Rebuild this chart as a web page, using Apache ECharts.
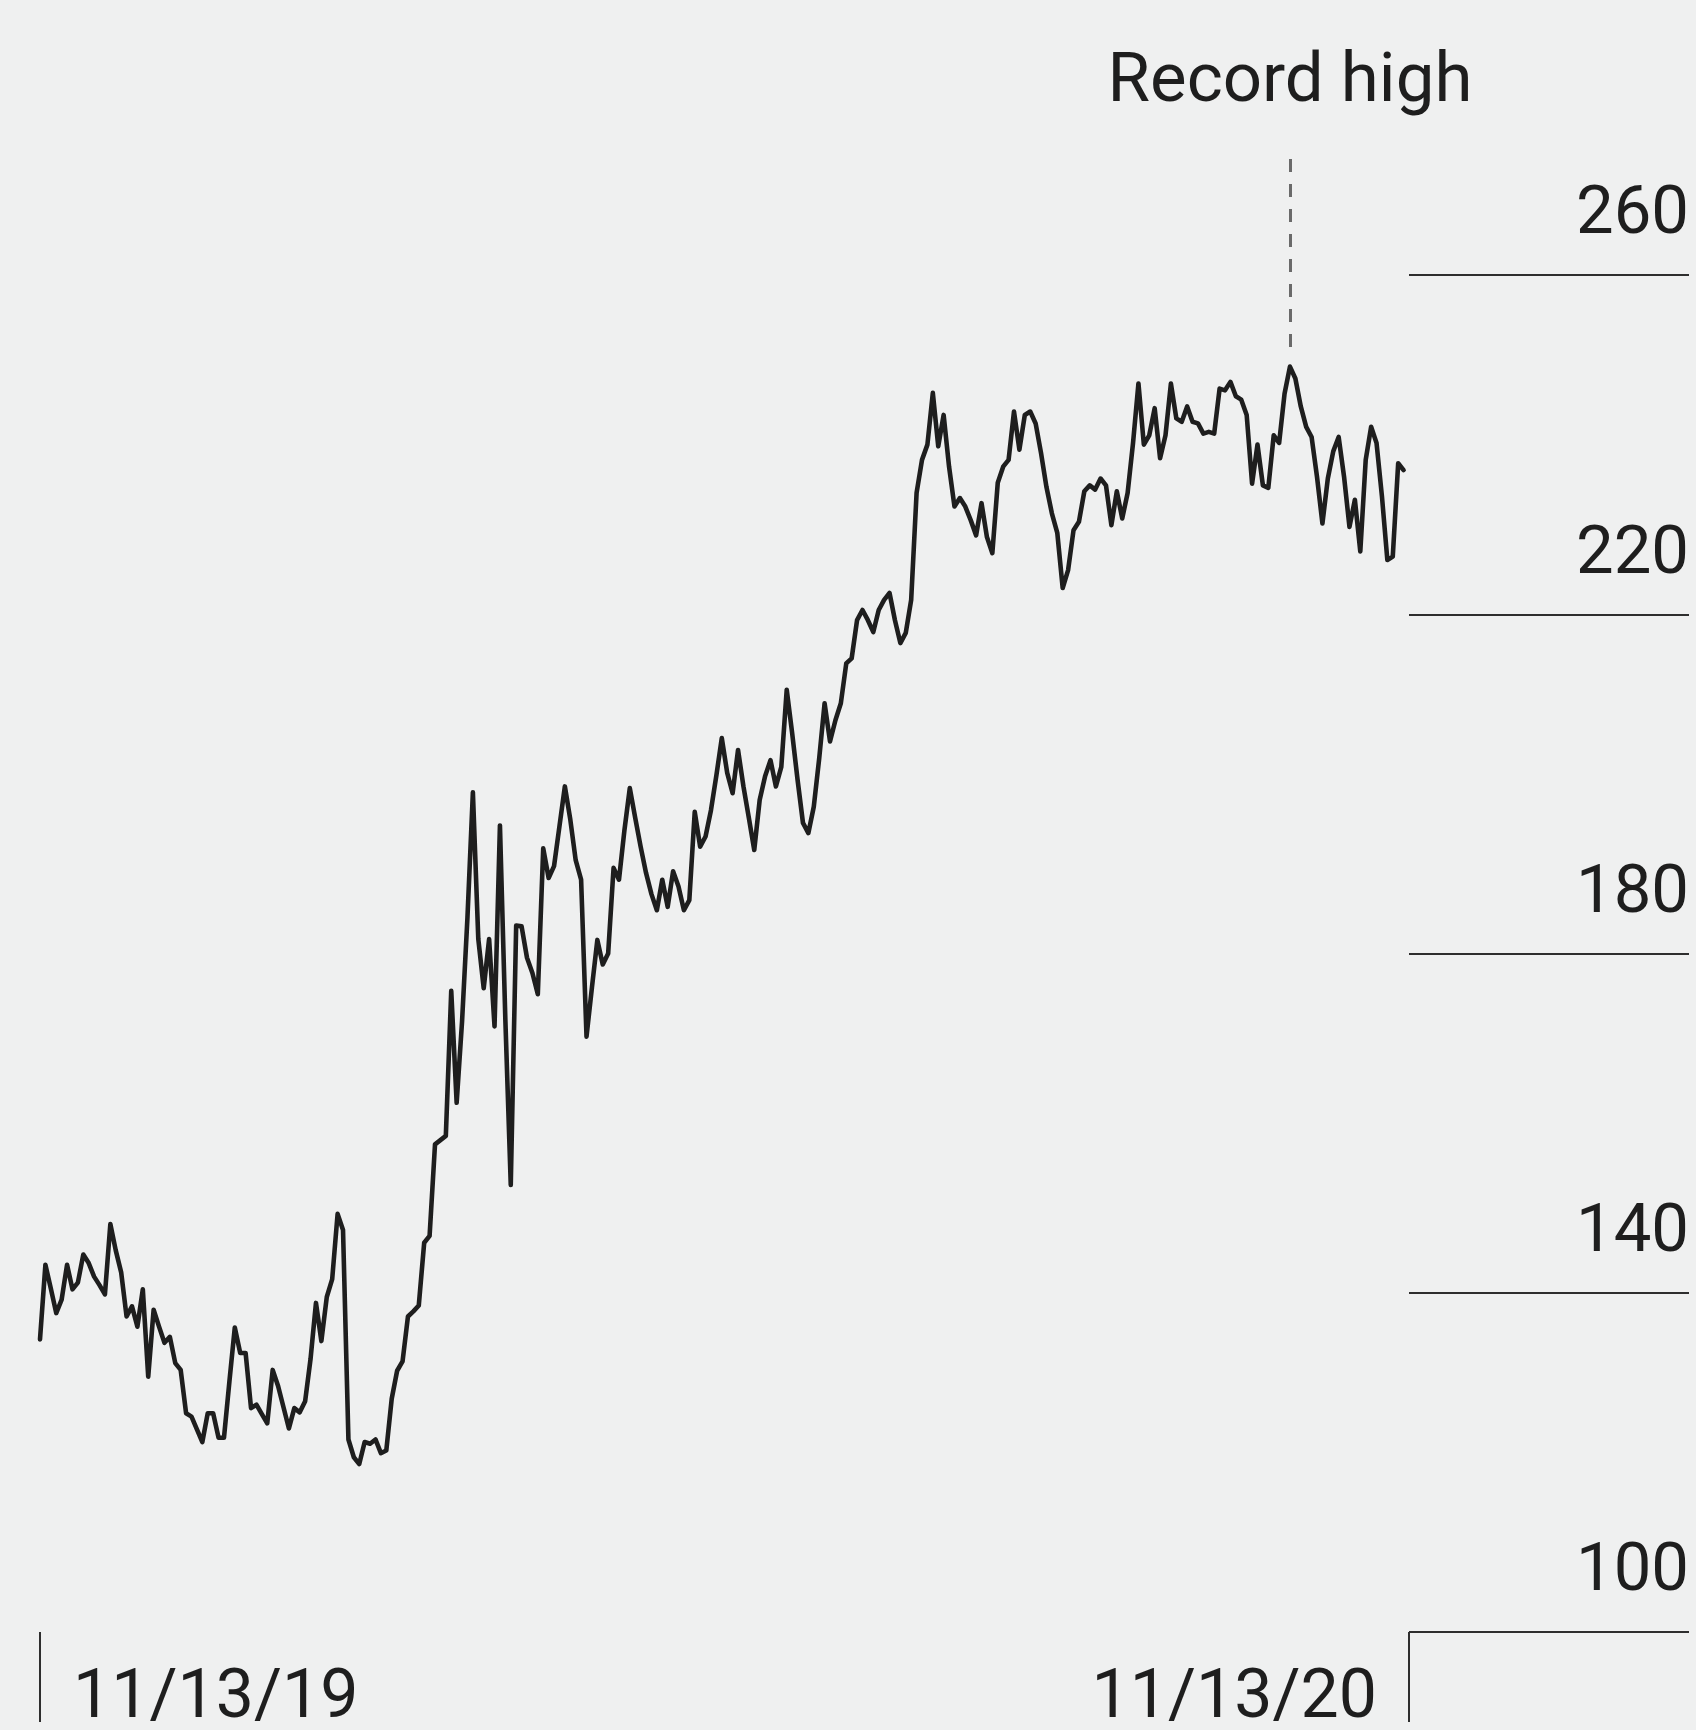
<!DOCTYPE html>
<html>
<head>
<meta charset="utf-8">
<title>Share price, 11/13/19 – 11/13/20</title>
<script src="https://cdn.jsdelivr.net/npm/echarts@6/dist/echarts.min.js"></script>
<style>
  html, body { margin: 0; padding: 0; background: #eff0f0; }
  #chart { width: 1696px; height: 1730px; }
</style>
</head>
<body>
<div id="chart"></div>
<script>
// Daily closing prices, one per trading day
const closes = [
  134.5, 143.3, 140.5, 137.6, 139.2, 143.3, 140.4, 141.2, 144.5, 143.5,
  141.9, 140.9, 139.8, 148.1, 145.0, 142.4, 137.2, 138.4, 136.0, 140.4,
  130.1, 138.0, 136.0, 134.1, 134.8, 131.7, 130.9, 125.8, 125.4, 123.9,
  122.4, 125.8, 125.8, 122.9, 122.9, 129.5, 135.9, 132.9, 132.9, 126.4,
  126.8, 125.7, 124.6, 130.9, 129.0, 126.5, 124.0, 126.4, 125.9, 127.2,
  132.2, 138.8, 134.3, 139.5, 141.6, 149.3, 147.4, 122.7, 120.6, 119.8,
  122.4, 122.2, 122.7, 121.1, 121.4, 127.5, 130.8, 131.9, 137.2, 137.8,
  138.5, 145.9, 146.7, 157.5, 158.0, 158.5, 175.6, 162.4, 172.0, 184.3,
  199.0, 181.7, 175.9, 181.7, 171.4, 195.1, 172.2, 152.7, 183.3, 183.2,
  179.5, 177.7, 175.2, 192.4, 188.9, 190.3, 195.0, 199.7, 195.8, 191.0,
  188.7, 170.2, 176.0, 181.6, 178.7, 180.0, 190.1, 188.7, 194.5, 199.5,
  196.0, 192.6, 189.5, 187.0, 185.1, 188.7, 185.5, 189.7, 187.9, 185.1,
  186.3, 196.7, 192.6, 193.8, 196.9, 201.0, 205.4, 201.3, 198.9, 204.0,
  199.7, 196.0, 192.2, 198.1, 200.9, 202.8, 199.7, 202.0, 211.1, 206.0,
  200.5, 195.4, 194.2, 197.3, 203.0, 209.5, 205.0, 207.5, 209.5, 214.2,
  214.8, 219.3, 220.5, 219.3, 217.9, 220.5, 221.7, 222.5, 219.3, 216.6,
  217.8, 221.7, 234.3, 238.2, 240.0, 246.1, 239.8, 243.5, 237.4, 232.7,
  233.7, 232.7, 231.1, 229.3, 233.1, 229.1, 227.2, 235.5, 237.4, 238.2,
  243.9, 239.4, 243.5, 243.9, 242.5, 239.0, 235.0, 231.9, 229.6, 223.1,
  225.2, 229.9, 230.9, 234.5, 235.2, 234.7, 236.0, 235.2, 230.5, 234.5,
  231.3, 234.3, 240.2, 247.2, 240.0, 241.1, 244.3, 238.4, 241.1, 247.2,
  243.1, 242.7, 244.5, 242.7, 242.5, 241.3, 241.5, 241.3, 246.6, 246.4,
  247.4, 245.7, 245.3, 243.5, 235.4, 240.0, 235.2, 234.9, 241.1, 240.2,
  246.0, 249.2, 247.8, 244.5, 242.1, 240.9, 236.2, 230.7, 236.0, 239.2,
  240.9, 236.2, 230.3, 233.5, 227.4, 238.2, 242.1, 240.2, 233.9, 226.4,
  226.8, 237.8, 237.0
];

// Dates shown at the two ends of the time axis
const dateLabels = ['11/13/19', '11/13/20'];

// Price gridline values
const priceTicks = [100, 140, 180, 220, 260];

const recordLabel = 'Record high';

// One slot per trading day, plus the closing date of the window
const days = closes.map((_, i) => i).concat(closes.length);
const lastDay = days.length - 1;
const isEnd = (i) => i === 0 || i === lastDay;

const recordValue = Math.max(...closes);
const recordDay = closes.indexOf(recordValue);

const yMin = priceTicks[0];
const yMax = priceTicks[priceTicks.length - 1];
const yStep = priceTicks[1] - priceTicks[0];

// The leader line above the record point reaches past the top gridline,
// so the price grid gets extra headroom at the same scale.
const headroomMax = 280;
const leaderTop = 274;
const leaderGap = 2.3;

const H = 1730;
const gridTop = 275;
const gridBottom = 98;
const plotH = H - gridTop - gridBottom;
const priceGridTop = gridTop - plotH * (headroomMax - yMax) / (yMax - yMin);

const ink = '#1e1e1e';
const rule = '#2e2e2e';
const font = 'Roboto, "Liberation Sans", sans-serif';

const chart = echarts.init(document.getElementById('chart'), null, { renderer: 'canvas' });

chart.setOption({
  animation: false,
  backgroundColor: '#eff0f0',
  textStyle: { fontFamily: font },
  grid: [
    { left: 40, right: 287, top: priceGridTop, bottom: gridBottom, outerBoundsMode: 'none', containLabel: false },
    { left: 1409, right: 7, top: gridTop, bottom: gridBottom, outerBoundsMode: 'none', containLabel: false }
  ],
  xAxis: [
    {
      type: 'category',
      gridIndex: 0,
      data: days,
      boundaryGap: false,
      axisLine: { show: false },
      axisTick: {
        show: true,
        interval: (i) => isEnd(i),
        length: 90,
        lineStyle: { color: rule, width: 2 }
      },
      axisLabel: {
        show: true,
        interval: (i) => isEnd(i),
        formatter: (v, i) => (i === 0 ? dateLabels[0] : dateLabels[1]),
        alignMinLabel: 'left',
        alignMaxLabel: 'right',
        padding: [0, 32, 0, 33],
        margin: 34,
        fontSize: 68,
        lineHeight: 68,
        color: ink,
        fontFamily: font
      },
      splitLine: { show: false }
    },
    { type: 'value', gridIndex: 1, show: false, min: 0, max: 1 }
  ],
  yAxis: [
    { type: 'value', gridIndex: 0, min: yMin, max: headroomMax, show: false },
    {
      type: 'value',
      gridIndex: 1,
      position: 'right',
      min: yMin,
      max: yMax,
      interval: yStep,
      axisLine: { show: false },
      axisTick: { show: false },
      splitLine: { show: true, lineStyle: { color: rule, width: 2 } },
      axisLabel: {
        inside: true,
        margin: 0,
        align: 'right',
        verticalAlign: 'bottom',
        padding: [0, 0, 25, 0],
        fontSize: 67,
        lineHeight: 67,
        color: ink,
        fontFamily: font
      }
    }
  ],
  series: [
    {
      type: 'line',
      xAxisIndex: 0,
      yAxisIndex: 0,
      data: closes,
      symbol: 'none',
      showSymbol: false,
      lineStyle: { color: ink, width: 4.6, join: 'round', cap: 'round' },
      emphasis: { disabled: true },
      markLine: {
        silent: true,
        animation: false,
        symbol: ['none', 'none'],
        lineStyle: { color: '#6a6a6a', width: 3, type: [13, 12] },
        label: {
          show: true,
          position: 'end',
          formatter: recordLabel,
          distance: 38,
          fontSize: 69,
          lineHeight: 69,
          color: ink,
          fontFamily: font
        },
        emphasis: { disabled: true },
        data: [[
          { coord: [recordDay, recordValue + leaderGap] },
          { coord: [recordDay, leaderTop] }
        ]]
      }
    }
  ]
});
</script>
</body>
</html>
